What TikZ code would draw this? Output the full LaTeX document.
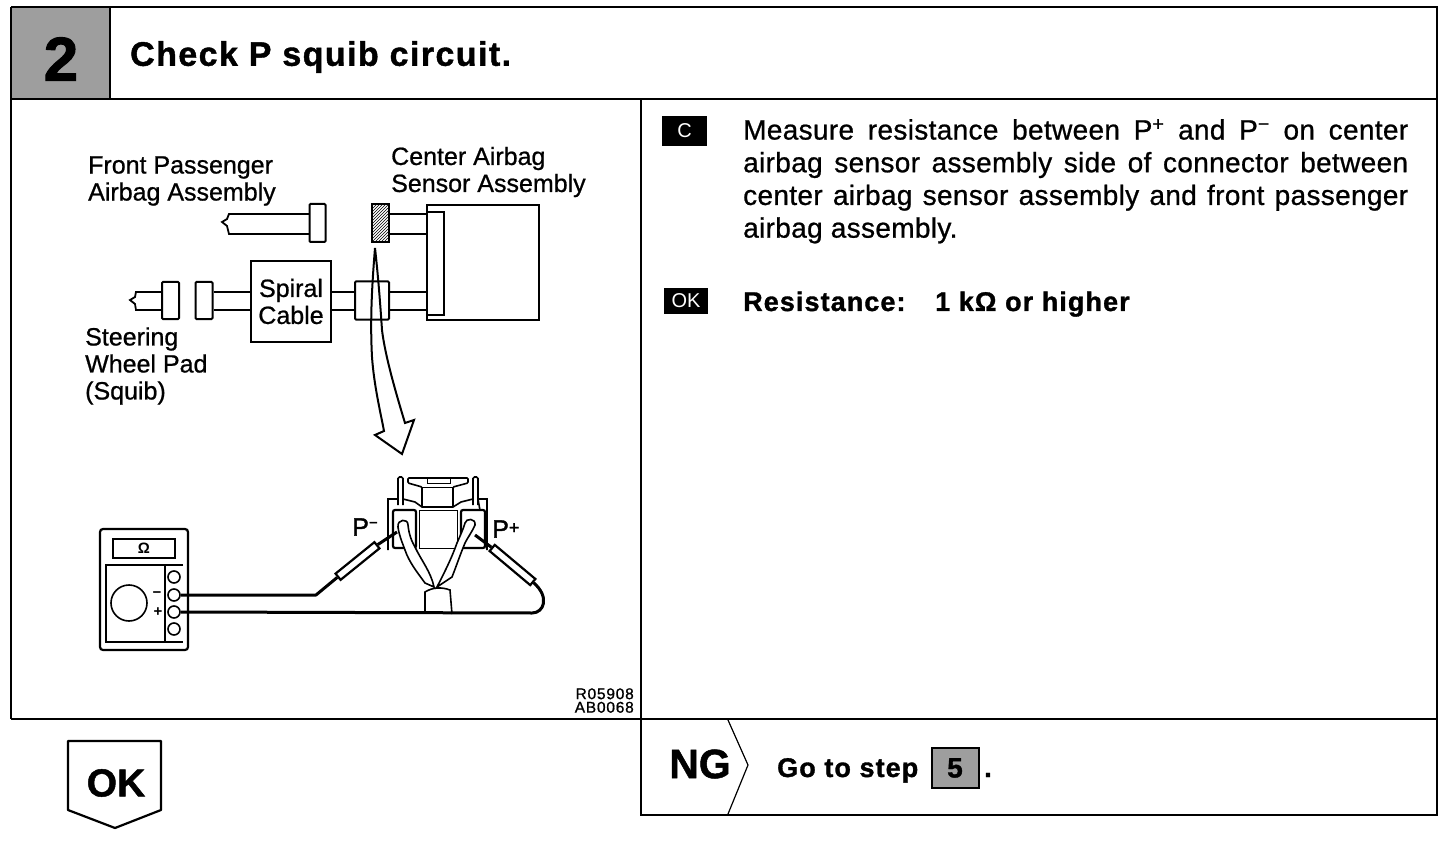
\documentclass[tikz,border=0pt]{standalone}
\usepackage{fontspec}
\setmainfont{Liberation Sans}
\usetikzlibrary{patterns}
\tikzset{
  x=1pt,y=-1pt,
  frame/.style={draw=black,line width=2.2pt},
  part/.style={draw=black,line width=2pt,fill=white,rounded corners=1pt,inner sep=0pt},
  wire/.style={draw=black,line width=1.8pt},
  lead/.style={draw=black,line width=3pt,line join=round},
  fine/.style={draw=black,line width=1.6pt},
  lbl/.style={anchor=west,inner sep=0pt,font=\fontsize{25}{27}\selectfont\addfontfeature{FakeBold=0.8},align=left,text=black},
  hd/.style={anchor=west,inner sep=0pt,font=\bfseries\fontsize{34}{36}\selectfont\addfontfeature{LetterSpace=4.2,FakeBold=1.2},text=black},
  body/.style={anchor=north west,inner sep=0pt,font=\fontsize{28}{33}\selectfont\addfontfeature{LetterSpace=1.2,FakeBold=0.8},text=black},
  boldtxt/.style={anchor=base west,inner sep=0pt,font=\bfseries\fontsize{27}{30}\selectfont\addfontfeature{LetterSpace=4,FakeBold=1.2}},
  tag/.style={fill=black,text=white,inner sep=0pt,font=\fontsize{20}{22}\selectfont},
  shadebox/.style={fill=black!38,draw=none,inner sep=0pt},
  jack/.style={circle,draw=black,line width=1.6pt,fill=white,minimum size=12pt,inner sep=0pt},
  probe/.style={draw=black,line width=2.2pt,fill=white,minimum width=50pt,minimum height=8pt,inner sep=0pt},
}
\newcommand{\jl}[1]{\makebox[665pt][s]{#1}}
\begin{document}
\begin{tikzpicture}
\useasboundingbox (0,0) rectangle (1456,842);
% header
\node[shadebox,minimum width=99pt,minimum height=92pt] (stepbox) at (60.5,53) {};
\node[font=\bfseries\fontsize{62}{62}\selectfont\addfontfeature{FakeBold=1.5},inner sep=0pt] (stepnum) at (61,59) {2};
\draw[frame] (11,7) -- (1437,7) -- (1437,815) -- (641,815) -- (641,99);
\draw[frame] (11,7) -- (11,719);
\draw[frame] (11,99) -- (1437,99);
\draw[frame] (11,719) -- (1437,719);
\draw[line width=1.2pt] (110,7) -- (110,99);
\node[hd] (title) at (130,57) {Check P squib circuit.};
% labels
\node[lbl] (fp) at (88,181) {Front Passenger\\Airbag Assembly};
\node[lbl] (cs) at (391,172) {Center Airbag\\Sensor Assembly};
\node[lbl] (sw) at (85,366) {Steering\\Wheel Pad\\(Squib)};
% front passenger connector
\draw[wire] (309,214) -- (229,214) -- (227,219) -- (222,222) -- (227,226) -- (229,234) -- (309,234);
\node[part,minimum width=16pt,minimum height=38pt] (fpc) at (317.5,223) {};
% sensor
\node[part,rounded corners=0pt,minimum width=112pt,minimum height=114pt] (sensor) at (483,262.5) {};
\node[part,rounded corners=0pt,minimum width=17pt,minimum height=102pt] (sensorin) at (435.5,263.5) {};
\draw[wire] (389,214) -- (sensor.west |- 0,214) (389,234) -- (sensor.west |- 0,234);
\node[draw=black,line width=2pt,fill=white,postaction={pattern=north east lines},minimum width=17pt,minimum height=38pt,inner sep=0pt] (hatch) at (380,223) {};
% lower line
\node[part,minimum width=17pt,minimum height=37pt] (padc) at (170.5,300.5) {};
\node[part,minimum width=17pt,minimum height=37pt] (spc) at (204,300.5) {};
\node[part,rounded corners=0pt,minimum width=80pt,minimum height=81pt,align=center,font=\fontsize{25}{27}\selectfont\addfontfeature{FakeBold=0.8}] (spiral) at (291,301.5) {Spiral\\Cable};
\node[part,minimum width=34pt,minimum height=38pt] (midc) at (372,300.5) {};
\draw[wire] (padc.west |- 0,292) -- (136,292) -- (135,297) -- (130,300) -- (135,304) -- (136,310) -- (padc.west |- 0,310);
\draw[wire] (spc.east |- 0,292) -- (spiral.west |- 0,292) (spc.east |- 0,310) -- (spiral.west |- 0,310);
\draw[wire] (spiral.east |- 0,292) -- (midc.west |- 0,292) (spiral.east |- 0,310) -- (midc.west |- 0,310);
\draw[wire] (midc.east |- 0,292) -- (sensor.west |- 0,292) (midc.east |- 0,310) -- (sensor.west |- 0,310);
% big arrow
\draw[draw=black,line width=2pt,line join=miter] (375,248)
  .. controls (372,285) and (370,320) .. (372,357)
  .. controls (374,385) and (380,410) .. (384,431)
  -- (375,435) -- (402,454) -- (414,420) -- (405,423)
  .. controls (395,390) and (385,355) .. (382,330)
  .. controls (380,300) and (378,275) .. (375,248) -- cycle;
% meter
\node[draw=black,line width=2.2pt,rounded corners=3pt,minimum width=88pt,minimum height=121pt,inner sep=0pt] (meter) at (144,589.5) {};
\node[draw=black,line width=1.6pt,minimum width=62pt,minimum height=19pt,inner sep=0pt,font=\bfseries\fontsize{15}{15}\selectfont] (display) at (144,548.5) {Ω};
\draw[fine] (183,565) -- (106,565) -- (106,642) -- (183,642);
\draw[fine] (165,565) -- (165,642);
\node[circle,draw=black,line width=1.6pt,minimum size=36pt,inner sep=0pt] (dial) at (129,603) {};
\node[inner sep=0pt,font=\bfseries\fontsize{15}{15}\selectfont] (minus) at (157,595) {−};
\node[inner sep=0pt,font=\bfseries\fontsize{15}{15}\selectfont] (plus) at (158,612) {+};
\node[jack] (j1) at (174,577) {};
\node[jack] (j2) at (174,595) {};
\node[jack] (j3) at (174,612) {};
\node[jack] (j4) at (174,629) {};
% tester connector
\draw[fine] (388,550) -- (388,499) -- (398,499) (403,499) -- (415,502) -- (422,507) -- (453,507) -- (461,502) -- (473,499) (478,499) -- (487,499) -- (487,550) -- cycle;
\draw[line width=2.2pt,fill=white,rounded corners=2pt] (393,510) rectangle (416,548);
\draw[line width=2.2pt,fill=white,rounded corners=2pt] (461,510) rectangle (485,548);
\draw[line width=1pt] (419,510) -- (457,510) -- (457,548) -- (419,548) -- cycle;
\draw[fine,rounded corners=1.5pt] (398,505) -- (398,477) -- (403,477) -- (403,505);
\draw[fine,rounded corners=1.5pt] (473,505) -- (473,477) -- (478,477) -- (478,505);
\draw[fine,rounded corners=1pt] (422,507) -- (422,487) -- (408,483) -- (408,478) -- (468,478) -- (468,483) -- (453,487) -- (453,507);
\draw[line width=1pt] (422,487) -- (453,487);
\draw[line width=1pt] (427,478) rectangle (450,483);
% harness
\draw[fine,fill=white] (398,527) .. controls (397,519) and (408,518) .. (408,525)
  .. controls (409,535) and (412,542) .. (415,547) .. controls (421,560) and (431,572) .. (434,587)
  -- (425,583) .. controls (417,572) and (409,562) .. (405,550) .. controls (402,542) and (399,535) .. (398,527) -- cycle;
\draw[fine,fill=white] (465,523) .. controls (466,518) and (476,518) .. (475,525)
  .. controls (472,532) and (468,537) .. (465,543) .. controls (460,555) and (456,567) .. (452,577)
  -- (437,587) .. controls (443,575) and (451,560) .. (457,543) .. controls (460,536) and (463,530) .. (465,523) -- cycle;
\draw[fine] (425,612) -- (425,592) .. controls (433,587) and (442,587) .. (450,590) -- (452,614);
% probes and leads
\node[probe,rotate=39] (probeL) at (357.5,561) {};
\node[probe,rotate=-40,minimum width=53pt] (probeR) at (512.5,565) {};
\coordinate (bendL) at (316,595);
\coordinate (tipL) at (397,532);
\coordinate (tipR) at (475,535);
\coordinate (cornerR) at (532,613);
\draw[lead] (j2.east) -- (bendL) -- (probeL.west);
\draw[lead] (probeL.east) -- (tipL);
\draw[lead] (probeR.west) -- (tipR);
\draw[lead] (j3.east) -- (cornerR) .. controls (544,613) and (550,597) .. (probeR.east);
\node[lbl,font=\fontsize{25}{26}\selectfont\addfontfeature{FakeBold=1.5}] (pm) at (352,527) {P\raisebox{8pt}{\fontsize{15}{15}\selectfont −}};
\node[lbl,font=\fontsize{25}{26}\selectfont\addfontfeature{FakeBold=1.5}] (pp) at (492,529) {P\raisebox{4pt}{\fontsize{18}{18}\selectfont +}};
% code
\node[anchor=south east,inner sep=0pt,align=right,font=\fontsize{15.5}{13.5}\selectfont\addfontfeature{FakeBold=1,LetterSpace=5}] (code) at (634,713) {R05908\\AB0068};
% right column
\node[tag,minimum width=45pt,minimum height=30pt] (tagc) at (684.5,131) {C};
\node[tag,minimum width=44pt,minimum height=26pt] (tagok) at (686,301) {OK};
\node[body] (meas) at (743,119) {\parbox[t]{665pt}{\lineskiplimit=-20pt\baselineskip=32.7pt
\jl{Measure resistance between P\textsuperscript{+} and P\textsuperscript{−} on center}\\
\jl{airbag sensor assembly side of connector between}\\
\jl{center airbag sensor assembly and front passenger}\\
airbag assembly.}};
\node[boldtxt] (res1) at (743,311) {Resistance:};
\node[boldtxt] (res2) at (935,311) {1 kΩ or higher};
% OK
\node[draw=none,inner sep=0pt,font=\bfseries\fontsize{39}{40}\selectfont\addfontfeature{FakeBold=1.2}] (oktxt) at (116,783) {OK};
\draw[line width=2.2pt,line join=round] (68,741) -- (161,741) -- (161,810) -- (115,828) -- (68,810) -- cycle;
% NG
\node[inner sep=0pt,font=\bfseries\fontsize{41}{42}\selectfont\addfontfeature{FakeBold=1.2}] (ngtxt) at (700,764) {NG};
\coordinate (ngtop) at (728,720);
\coordinate (ngmid) at (748,765);
\coordinate (ngbot) at (728,814);
\draw[line width=1.2pt] (ngtop) -- (ngmid) -- (ngbot);
\node[boldtxt] (goto) at (777,777) {Go to step};
\node[shadebox,draw=black,line width=2pt,minimum width=47pt,minimum height=40pt,font=\bfseries\fontsize{28}{28}\selectfont\addfontfeature{FakeBold=1.2}] (five) at (955,768) {5};
\node[boldtxt] (dot) at (984,777) {.};
\end{tikzpicture}
\end{document}
